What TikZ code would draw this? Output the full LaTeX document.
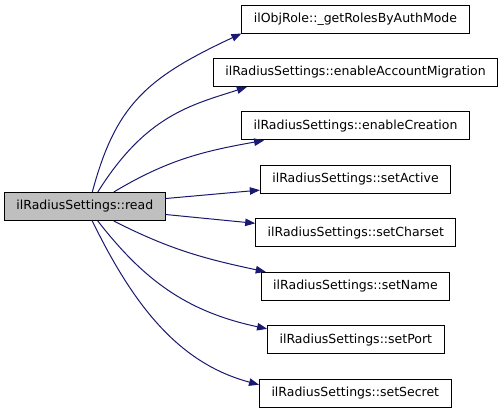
\documentclass[tikz,border=0pt]{standalone}
\usepackage{fontspec}
\setmainfont{DejaVu Sans}
\usepackage{tikz}
\usetikzlibrary{arrows.meta}
\definecolor{edgec}{RGB}{25,25,112}
\definecolor{curfill}{RGB}{191,191,191}

\begin{document}
\begin{tikzpicture}[
  x=1bp, y=1bp,
  font=\fontsize{12.5bp}{15bp}\selectfont,
  box/.style={
    draw=black, line width=1bp,
    inner xsep=12bp, inner ysep=0pt, minimum height=28bp
  },
  fn/.style={box, fill=white},
  cur/.style={box, fill=curfill},
  arr/.style={-{Triangle[length=10bp, width=7.5bp]}, line width=1bp, color=edgec}
]
\useasboundingbox (0,0) rectangle (504,-413);

% ---- caller ----
\node[cur] (read) at (84.8,-206.5) {ilRadiusSettings::read};

% ---- callees ----
\node[fn] (getroles)  at (355.5,-19.0)  {ilObjRole::\_getRolesByAuthMode};
\node[fn] (migration) at (355.5,-72.5)  {ilRadiusSettings::enableAccountMigration};
\node[fn] (creation)  at (355.5,-125.9) {ilRadiusSettings::enableCreation};
\node[fn] (active)    at (355.5,-179.4) {ilRadiusSettings::setActive};
\node[fn] (charset)   at (355.8,-232.8) {ilRadiusSettings::setCharset};
\node[fn] (name)      at (355.5,-286.3) {ilRadiusSettings::setName};
\node[fn] (port)      at (355.8,-339.7) {ilRadiusSettings::setPort};
\node[fn] (secret)    at (355.3,-393.2) {ilRadiusSettings::setSecret};

% ---- calls, upper half ----
\draw[arr] ([xshift=7.5bp]read.north) .. controls +(75:90) and +(205:105) .. (getroles.south west);
\draw[arr] ([xshift=13bp]read.north) .. controls +(58:91) and +(198:58) .. ([xshift=34bp]migration.south west);
\draw[arr] ([xshift=29bp]read.north) to[out=31, in=190] ([xshift=23bp]creation.south west);
\draw[arr] ([yshift=8bp]read.east) -- ([yshift=-10.7bp]active.west);

% ---- calls, lower half ----
\draw[arr] ([yshift=-8bp]read.east) -- ([yshift=9.5bp]charset.west);
\draw[arr] ([xshift=29bp]read.south) to[out=-27, in=168] ([xshift=5bp]name.north west);
\draw[arr] ([xshift=13bp]read.south) .. controls +(-52:73) and +(168:84) .. ([yshift=-3.6bp]port.north west);
\draw[arr] ([xshift=7.5bp]read.south) .. controls +(-64:98) and +(165:81) .. ([yshift=-6bp]secret.north west);

\end{tikzpicture}
\end{document}
